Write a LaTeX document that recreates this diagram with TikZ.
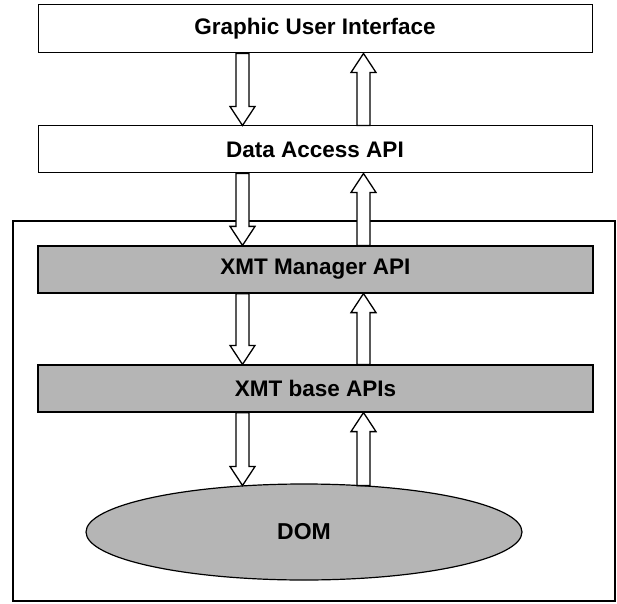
\documentclass[tikz,border=0pt]{standalone}
\usepackage{fontspec}
\setmainfont{Liberation Sans}
\usetikzlibrary{calc,shapes.geometric}
\definecolor{bargray}{gray}{0.71}
\tikzset{
  layerbox/.style={draw=black, line width=1pt, fill=white, minimum width=554pt, minimum height=48pt, inner sep=0pt, font=\fontsize{22.5}{26}\selectfont\bfseries},
  graybar/.style={layerbox, fill=bargray, line width=1.2pt, minimum width=555pt, minimum height=47pt},
  outerbox/.style={draw=black, line width=1.8pt, minimum width=602pt, minimum height=380pt, inner sep=0pt},
  domell/.style={ellipse, draw=black, line width=1.2pt, fill=bargray, minimum width=436pt, minimum height=96pt, inner sep=0pt, font=\fontsize{23}{26}\selectfont\bfseries},
  blockarr/.style={draw=black, fill=white, line width=1.3pt, line join=miter}
}
\newcommand\arrdn[2]{\draw[blockarr] ($(#1)+(-6.5,0)$) -- ($(#2)+(-6.5,19)$) -- ($(#2)+(-12.5,19)$) -- (#2) -- ($(#2)+(12.5,19)$) -- ($(#2)+(6.5,19)$) -- ($(#1)+(6.5,0)$) -- cycle;}
\newcommand\arrup[2]{\draw[blockarr] ($(#1)+(-6.5,0)$) -- ($(#2)+(-6.5,-19)$) -- ($(#2)+(-12.5,-19)$) -- (#2) -- ($(#2)+(12.5,-19)$) -- ($(#2)+(6.5,-19)$) -- ($(#1)+(6.5,0)$) -- cycle;}
\begin{document}
\begin{tikzpicture}[x=1pt,y=1pt]
\useasboundingbox (0,0) rectangle (617,603);
\node[outerbox] (outer) at (314,192) {};
\node[layerbox] (gui) at (315,574) {Graphic User Interface};
\node[layerbox, minimum height=47pt] (dap) at (315,453.5) {Data Access API};
\node[graybar] (xmgr) at (315.5,333.5) {XMT Manager API};
\node[graybar] (xbase) at (315.5,214.5) {XMT base APIs};
\node[domell] (dom) at (304,71) {DOM};
\coordinate (cA) at (242.5,0);
\coordinate (cB) at (363.5,0);
\coordinate (dA) at ($(cA |- dom.north)+(0,-2.1)$);
\coordinate (dB) at ($(cB |- dom.north)+(0,-2.2)$);
\coordinate (g1) at (gui.south -| cA);
\coordinate (g2) at (gui.south -| cB);
\coordinate (a1) at (dap.north -| cA);
\coordinate (a2) at (dap.north -| cB);
\coordinate (a3) at (dap.south -| cA);
\coordinate (a4) at (dap.south -| cB);
\coordinate (m1) at (xmgr.north -| cA);
\coordinate (m2) at (xmgr.north -| cB);
\coordinate (m3) at (xmgr.south -| cA);
\coordinate (m4) at (xmgr.south -| cB);
\coordinate (b1) at (xbase.north -| cA);
\coordinate (b2) at (xbase.north -| cB);
\coordinate (b3) at (xbase.south -| cA);
\coordinate (b4) at (xbase.south -| cB);
\arrdn{g1}{a1}
\arrup{a2}{g2}
\arrdn{a3}{m1}
\arrup{m2}{a4}
\arrdn{m3}{b1}
\arrup{b2}{m4}
\arrdn{b3}{dA}
\arrup{dB}{b4}
\end{tikzpicture}
\end{document}
